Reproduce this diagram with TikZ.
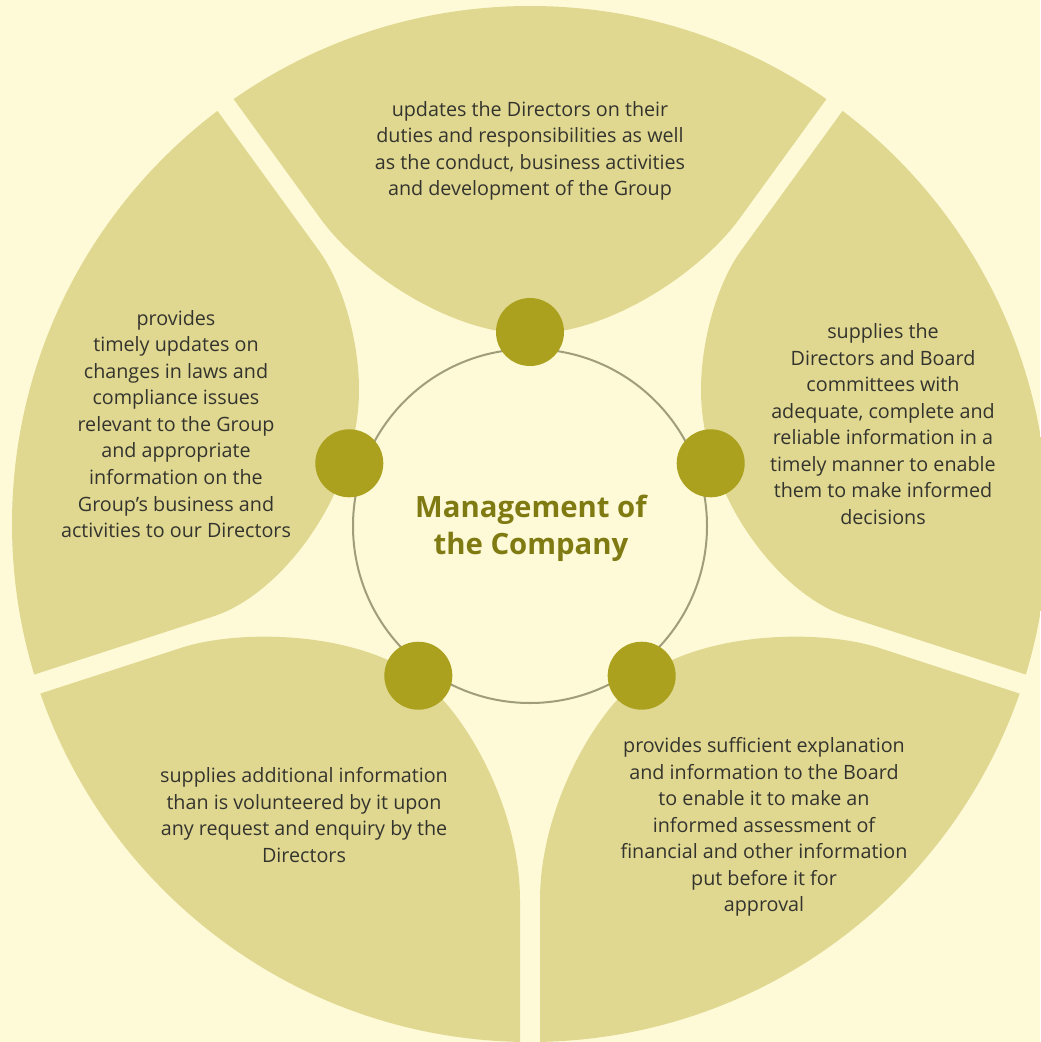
\documentclass[tikz,border=0pt]{standalone}
\usepackage{fontspec}
\setmainfont{Open Sans}
\usepackage{xcolor}
\usetikzlibrary{calc}
\definecolor{cream}{HTML}{FEFAD8}
\definecolor{petalfill}{HTML}{E0D891}
\definecolor{olivedot}{HTML}{ABA11F}
\definecolor{olivetext}{HTML}{7F7A12}
\definecolor{ringline}{HTML}{A09D7A}
\definecolor{bodytext}{HTML}{34342E}

\begin{document}
\begin{tikzpicture}[x=0.75pt,y=-0.75pt,font=\fontsize{14.8}{19.9}\selectfont]
  \tikzset{dot/.style={circle,fill=olivedot,minimum size=51pt,inner sep=0pt},
    ring/.style={circle,draw=ringline,line width=1.5pt,minimum size=265.5pt,inner sep=0pt},
    duty/.style={align=center,text=bodytext,inner sep=0pt},
    petal/.style={fill=petalfill}}

  \useasboundingbox (0,0) rectangle (1040,1042);
  \fill[cream] (0,0) rectangle (1040,1042);

  % five petals, cut by the outer circle
  \begin{scope}[shift={(530,524)}]
    \clip (0,0) circle[radius=518];
    \fill[petal] (-344.6,-491.3) -- (-209.4,-305.2) .. controls (-171.2,-252.6) and (-80,-190) .. (0,-190)
      .. controls (80,-190) and (171.2,-252.6) .. (209.4,-305.2) -- (344.6,-491.3) -- (0,-824) -- cycle;
    \foreach \s in {1,-1}{
      \begin{scope}[xscale=\s]
        \fill[petal] (-360.8,-479.5) -- (-210.9,-273.2) .. controls (-187.4,-240.8) and (-171,-184) .. (-171,-134)
          .. controls (-171,-34) and (-245.6,69.3) .. (-316.9,92.5) -- (-573.8,175.9) -- (-760.9,-247.2) -- cycle;
        \fill[petal] (-662.7,225.8) -- (-348.8,123.8) .. controls (-291.7,105.3) and (-177.1,106.5) .. (-112,153)
          .. controls (-63.2,187.9) and (-10,286) .. (-10,376) -- (-10,676) -- (-730,676) -- cycle;
      \end{scope}
    }
  \end{scope}

  \node[ring] (hub) at (530,526) {};
  \foreach \a/\n in {-90/top,198/left,-18/right,126/lowleft,54/lowright}
    \node[dot] (\n) at ($(530,522)+(\a:190)$) {};

  \node[text=olivetext,align=center,inner sep=0pt,font=\fontsize{22}{27.75}\selectfont\bfseries] (title) at (531,528)
    {Management of\\the Company};

  \node[duty] (updates) at (530,151) {updates the Directors on their\\
    duties and responsibilities as well\\
    as the conduct, business activities\\
    and development of the Group};

  \node[duty] (laws) at (176,424) {provides\\
    timely updates on\\
    changes in laws and\\
    compliance issues\\
    relevant to the Group\\
    and appropriate\\
    information on the\\
    Group’s business and\\
    activities to our Directors};

  \node[duty] (supply) at (883,424) {supplies the\\
    Directors and Board\\
    committees with\\
    adequate, complete and\\
    reliable information in a\\
    timely manner to enable\\
    them to make informed\\
    decisions};

  \node[duty] (extra) at (304,815) {supplies additional information\\
    than is volunteered by it upon\\
    any request and enquiry by the\\
    Directors};

  \node[duty] (assess) at (764,827) {provides sufficient explanation\\
    and information to the Board\\
    to enable it to make an\\
    informed assessment of\\
    financial and other information\\
    put before it for\\
    approval};
\end{tikzpicture}
\end{document}
